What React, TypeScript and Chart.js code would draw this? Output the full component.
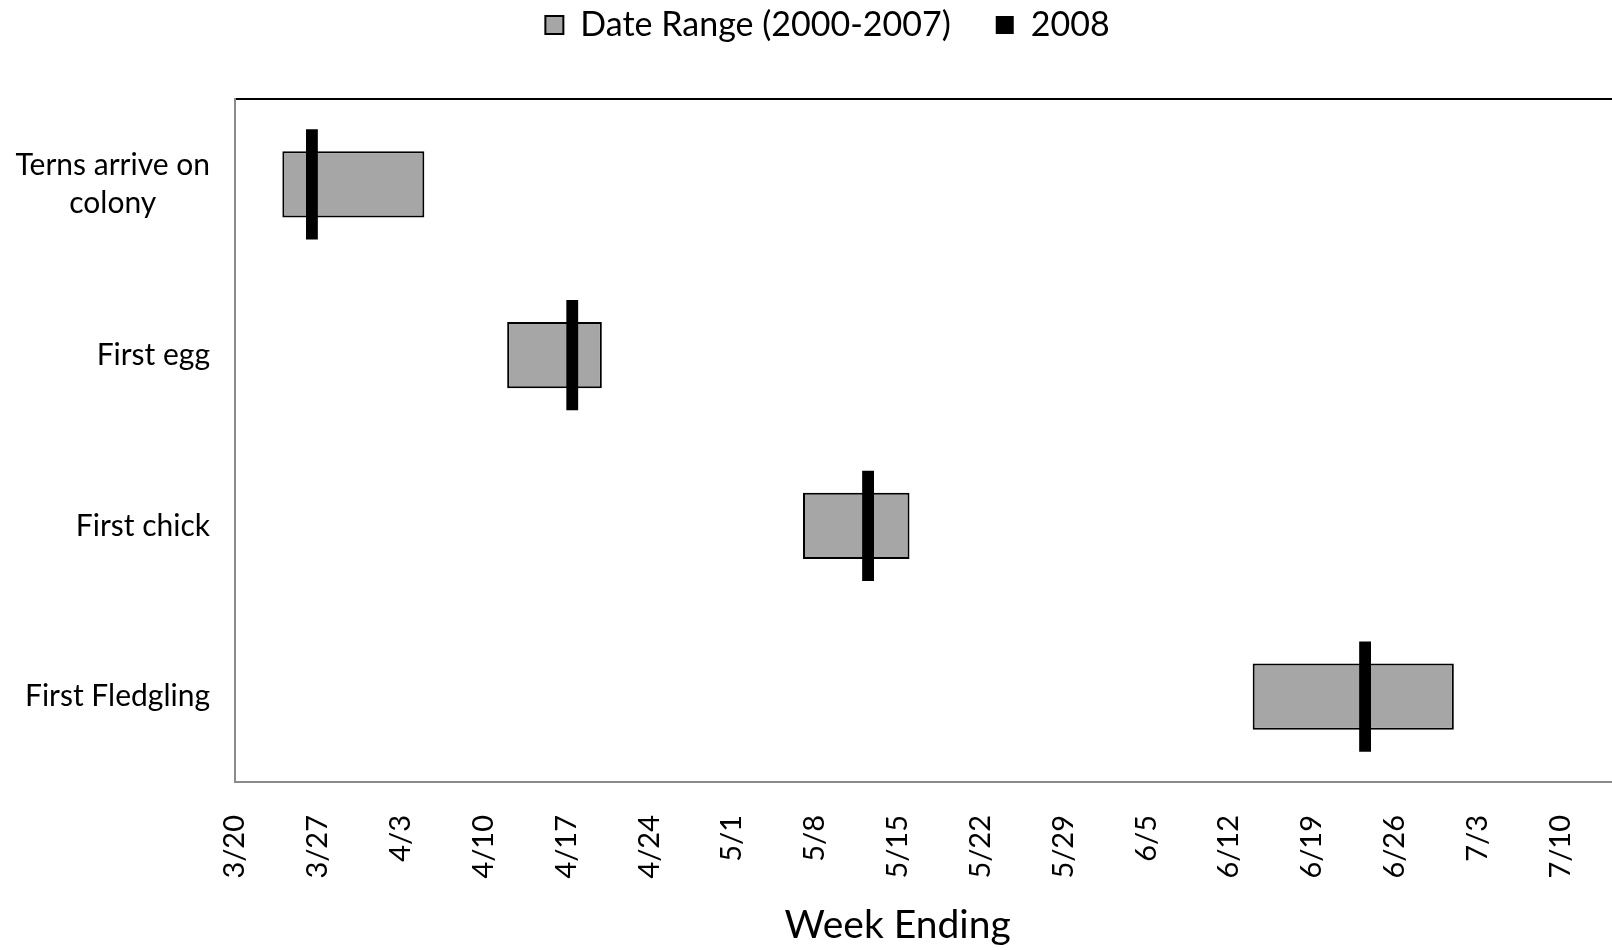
import React, { useEffect, useRef } from 'react';
import { Chart, registerables } from 'chart.js';

Chart.register(...registerables);

// Nesting milestones and their historical date windows
const categories: (string | string[])[] = [['Terns arrive on', 'colony'], 'First egg', 'First chick', 'First Fledgling'];
const rangeStart = ['3/24', '4/12', '5/7', '6/14'];
const rangeEnd = ['4/5', '4/20', '5/16', '7/1'];
const observed2008 = ['3/26', '4/17', '5/12', '6/23'];
const weekEnding = ['3/20', '3/27', '4/3', '4/10', '4/17', '4/24', '5/1', '5/8', '5/15', '5/22', '5/29', '6/5', '6/12', '6/19', '6/26', '7/3', '7/10'];
const seriesNames = ['Date Range (2000-2007)', '2008'];
const axisTitle = 'Week Ending';
const axisEnd = '7/18';

const YEAR = 2008;
const ORIGIN = Date.UTC(YEAR, 2, 20);
// days elapsed since the first week-ending date
const dayOf = (md: string) => {
  const [m, d] = md.split('/').map(Number);
  return Math.round((Date.UTC(YEAR, m - 1, d) - ORIGIN) / 86400000);
};

const FONT = 'Lato';

// x-axis title, centred over the labelled weeks
const xTitlePlugin = {
  id: 'xTitle',
  afterDraw(chart: any) {
    const x = chart.scales.x;
    const first = x.getPixelForValue(dayOf(weekEnding[0]));
    const last = x.getPixelForValue(dayOf(weekEnding[weekEnding.length - 1]));
    const ctx = chart.ctx;
    ctx.save();
    ctx.font = `39px ${FONT}`;
    ctx.fillStyle = '#000';
    ctx.textAlign = 'center';
    ctx.textBaseline = 'middle';
    ctx.fillText(axisTitle, (first + last) / 2, x.bottom - 25);
    ctx.restore();
  },
};

// category labels: right-aligned blocks whose lines are centred on each other
const categoryLabelPlugin = {
  id: 'categoryLabels',
  afterDraw(chart: any) {
    const y = chart.scales.y;
    const ctx = chart.ctx;
    const lineHeight = 38;
    ctx.save();
    ctx.font = `30px ${FONT}`;
    ctx.fillStyle = '#000';
    ctx.textAlign = 'center';
    ctx.textBaseline = 'middle';
    chart.data.labels.forEach((label: string | string[], i: number) => {
      const lines = Array.isArray(label) ? label : [label];
      const w = Math.max(...lines.map((l) => ctx.measureText(l).width));
      const cx = y.right - 25 - w / 2;
      const cy = y.getPixelForValue(i);
      lines.forEach((l, j) => {
        ctx.fillText(l, cx, cy + (j - (lines.length - 1) / 2) * lineHeight);
      });
    });
    ctx.restore();
  },
};

export default function App() {
  const ref = useRef<HTMLCanvasElement>(null);

  useEffect(() => {
    if (!ref.current) return;
    const chart = new Chart(ref.current, {
      type: 'bar',
      data: {
        labels: categories,
        datasets: [
          {
            label: seriesNames[0],
            data: rangeStart.map((s, i) => [dayOf(s), dayOf(rangeEnd[i])]),
            backgroundColor: '#a6a6a6',
            borderColor: '#000',
            borderWidth: 2,
            borderSkipped: false,
            barPercentage: 0.387,
            categoryPercentage: 1,
            grouped: false,
            order: 2,
          },
          {
            label: seriesNames[1],
            // a one-day band marks the 2008 date
            data: observed2008.map((s) => [dayOf(s), dayOf(s) + 1]),
            backgroundColor: '#000',
            borderColor: '#000',
            borderWidth: 0,
            barPercentage: 0.645,
            categoryPercentage: 1,
            grouped: false,
            order: 1,
          },
        ] as any,
      },
      options: {
        indexAxis: 'y',
        animation: false,
        responsive: false,
        maintainAspectRatio: false,
        layout: { padding: { top: -37, left: 0, right: 0, bottom: 0 } },
        plugins: {
          legend: {
            position: 'top',
            labels: {
              font: { family: FONT, size: 34 },
              color: '#000',
              boxWidth: 18,
              boxHeight: 18,
              padding: 45,
              sort: (a: any, b: any) => a.datasetIndex - b.datasetIndex,
            },
          },
          tooltip: { enabled: false },
        },
        scales: {
          x: {
            type: 'linear',
            position: 'bottom',
            min: dayOf(weekEnding[0]),
            max: dayOf(axisEnd),
            afterBuildTicks: (s: any) => {
              s.ticks = weekEnding.map((w) => ({ value: dayOf(w) }));
            },
            afterFit: (s: any) => {
              s.height = 168;
            },
            ticks: {
              autoSkip: false,
              minRotation: 90,
              maxRotation: 90,
              padding: 33,
              color: '#000',
              font: { family: FONT, size: 29 },
              callback: (_v: any, i: number) => weekEnding[i] ?? '',
            },
            grid: { drawOnChartArea: false, drawTicks: false },
            border: { color: '#8a8a8a', width: 2 },
          },
          xTop: {
            type: 'linear',
            position: 'top',
            min: dayOf(weekEnding[0]),
            max: dayOf(axisEnd),
            ticks: { display: false },
            afterFit: (s: any) => {
              s.height = 47;
            },
            grid: { drawOnChartArea: false, drawTicks: false },
            border: { color: '#000', width: 2 },
          },
          y: {
            type: 'category',
            afterFit: (s: any) => {
              s.width = 235;
            },
            ticks: { display: false },
            grid: { drawOnChartArea: false, drawTicks: false },
            border: { color: '#8a8a8a', width: 2 },
          },
        },
      } as any,
      plugins: [xTitlePlugin, categoryLabelPlugin],
    });
    return () => chart.destroy();
  }, []);

  return (
    <div
      style={{
        position: 'fixed',
        left: 0,
        top: 0,
        width: 1612,
        height: 950,
        overflow: 'hidden',
        background: '#fff',
      }}
    >
      <canvas ref={ref} width={1655} height={950} style={{ width: 1655, height: 950, display: 'block' }} />
    </div>
  );
}
